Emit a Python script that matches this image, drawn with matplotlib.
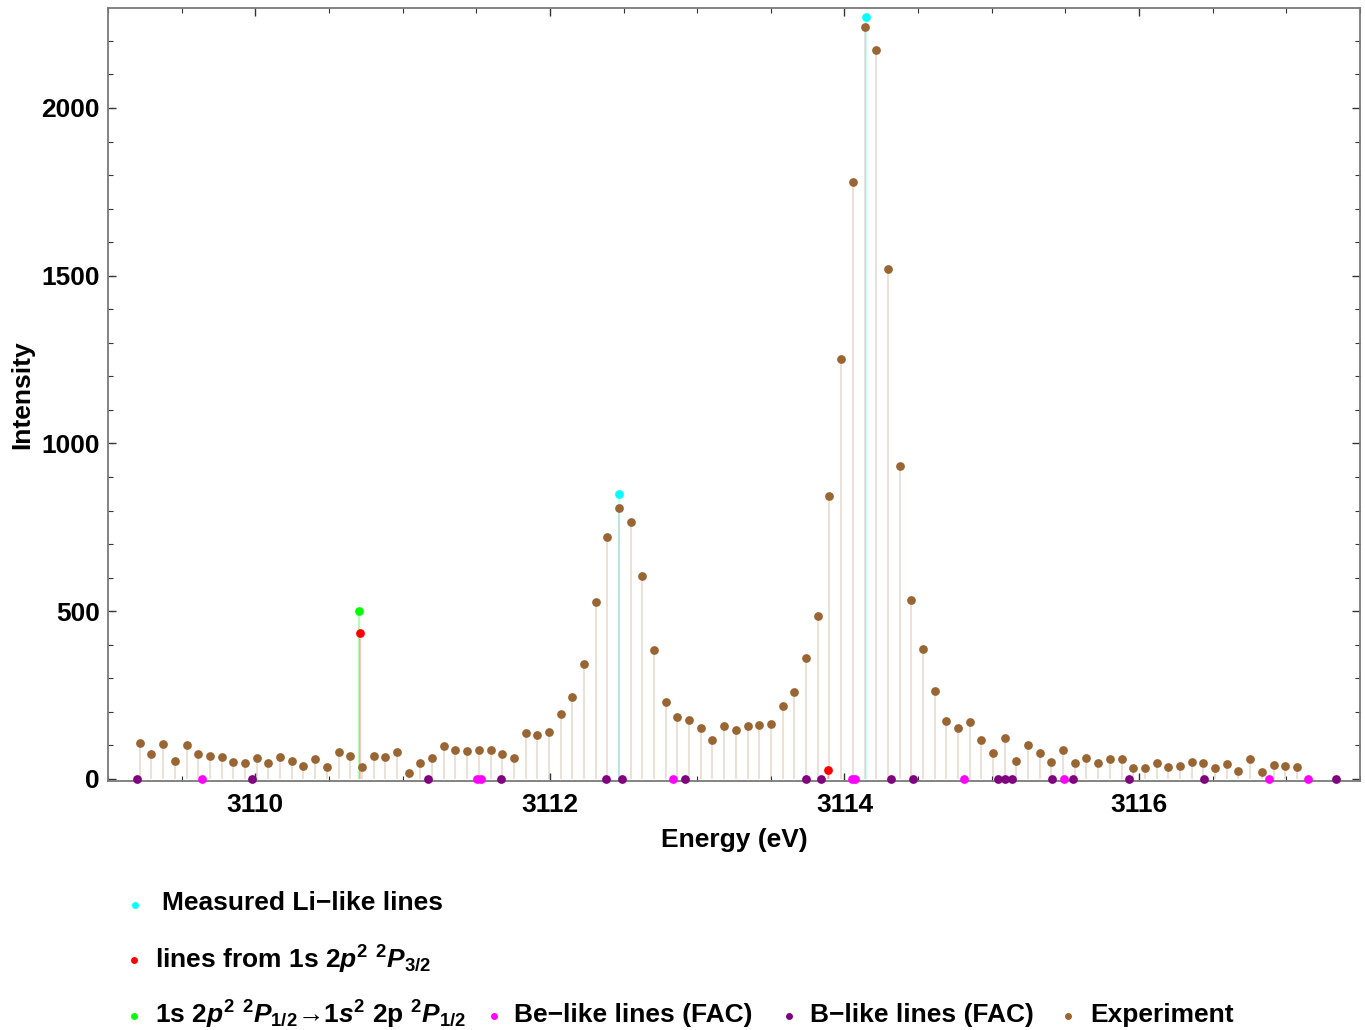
import matplotlib
matplotlib.use("Agg")
import matplotlib.pyplot as plt
from matplotlib.lines import Line2D
from matplotlib.ticker import MultipleLocator

plt.rcParams['font.family'] = ['Liberation Sans', 'DejaVu Sans']
plt.rcParams['font.weight'] = 'bold'
plt.rcParams['mathtext.fontset'] = 'custom'
plt.rcParams['mathtext.rm'] = 'Liberation Sans:bold'
plt.rcParams['mathtext.it'] = 'Liberation Sans:bold:italic'
plt.rcParams['mathtext.bf'] = 'Liberation Sans:bold'

# ---------------- data ----------------
exp_energy = [3109.216, 3109.295, 3109.375, 3109.454, 3109.533, 3109.613, 3109.692, 3109.771, 3109.851, 3109.930,
              3110.010, 3110.089, 3110.168, 3110.248, 3110.327, 3110.406, 3110.486, 3110.565, 3110.644, 3110.724,
              3110.803, 3110.882, 3110.962, 3111.041, 3111.120, 3111.200, 3111.279, 3111.358, 3111.438, 3111.517,
              3111.597, 3111.676, 3111.755, 3111.835, 3111.914, 3111.993, 3112.073, 3112.152, 3112.231, 3112.311,
              3112.390, 3112.469, 3112.549, 3112.628, 3112.707, 3112.787, 3112.866, 3112.945, 3113.025, 3113.104,
              3113.184, 3113.263, 3113.342, 3113.422, 3113.501, 3113.580, 3113.660, 3113.739, 3113.818, 3113.898,
              3113.977, 3114.056, 3114.136, 3114.215, 3114.294, 3114.374, 3114.453, 3114.532, 3114.612, 3114.691,
              3114.771, 3114.850, 3114.929, 3115.009, 3115.088, 3115.167, 3115.247, 3115.326, 3115.405, 3115.485,
              3115.564, 3115.643, 3115.723, 3115.802, 3115.881, 3115.961, 3116.040, 3116.119, 3116.199, 3116.278,
              3116.358, 3116.437, 3116.516, 3116.596, 3116.675, 3116.754, 3116.834, 3116.913, 3116.992, 3117.072]
exp_intensity = [108, 75, 104, 55, 100, 75, 69, 66, 51, 49,
                 62, 47, 66, 54, 40, 59, 37, 80, 69, 36,
                 70, 66, 81, 19, 49, 63, 97, 86, 84, 85,
                 87, 73, 63, 136, 131, 141, 194, 243, 344, 528,
                 722, 809, 766, 606, 383, 228, 186, 177, 153, 115,
                 159, 146, 157, 160, 163, 218, 258, 362, 487, 844,
                 1253, 1780, 2242, 2172, 1520, 933, 534, 386, 262, 172,
                 152, 171, 116, 78, 122, 54, 101, 76, 51, 87,
                 47, 62, 47, 61, 61, 32, 32, 49, 36, 40,
                 52, 48, 34, 45, 24, 61, 20, 41, 39, 37]

li_energy = [3112.468, 3114.144]
li_intensity = [850, 2270]

p32_energy = [3110.713, 3113.890]
p32_intensity = [436, 28]

p12_energy = [3110.704]
p12_intensity = [500]

be_energy = [3109.635, 3111.503, 3111.535, 3112.835, 3114.049, 3114.071, 3114.812, 3115.491, 3116.884, 3117.147]
be_intensity = [0, 0, 0, 0, 0, 0, 0, 0, 0, 0]

b_energy = [3109.198, 3109.977, 3111.173, 3111.669, 3112.384, 3112.488, 3112.916, 3113.736, 3113.842,
            3114.318, 3114.465, 3115.041, 3115.090, 3115.138, 3115.412, 3115.550, 3115.935, 3116.442, 3117.337]
b_intensity = [0] * len(b_energy)

legend_labels = [
    "Measured Li\u2212like lines",
    r"lines from 1s 2$p^2$ $^2P_{3/2}$",
    r"1s 2$p^2$ $^2P_{1/2}$" + "\u2192" + r"1$s^2$ 2p $^2P_{1/2}$",
    "Be\u2212like lines (FAC)",
    "B\u2212like lines (FAC)",
    "Experiment",
]

# ---------------- style ----------------
C_LI = '#00FFFF'
C_P32 = '#FF0000'
C_P12 = '#00FF00'
C_BE = '#FF00FF'
C_B = '#800080'
C_EXP = '#996633'
FS = 19

W, H = 1365, 1030
fig = plt.figure(figsize=(W / 100, H / 100), dpi=100)
ax = fig.add_axes([108 / W, 1 - 781 / H, (1360 - 108) / W, (781 - 8) / H])


def stems(xs, ys, color, alpha, lw=1.1, z=1):
    ax.vlines(xs, 0, ys, colors=color, alpha=alpha, linewidth=lw, zorder=z)


ms = 6.3
stems(exp_energy, exp_intensity, C_EXP, 0.25, z=1)
stems(li_energy, li_intensity, C_LI, 0.3, z=1.2)
stems(p32_energy, p32_intensity, C_P32, 0.3, z=1.3)
stems(p12_energy, p12_intensity, C_P12, 0.4, z=1.4)

ax.plot(be_energy, be_intensity, 'o', color=C_BE, ms=ms, mec='none', zorder=3, clip_on=False)
ax.plot(b_energy, b_intensity, 'o', color=C_B, ms=ms, mec='none', zorder=3, clip_on=False)
ax.plot(exp_energy, exp_intensity, 'o', color=C_EXP, ms=ms, mec='none', zorder=4)
ax.plot(li_energy, li_intensity, 'o', color=C_LI, ms=ms, mec='none', zorder=5)
ax.plot(p32_energy, p32_intensity, 'o', color=C_P32, ms=ms, mec='none', zorder=5)
ax.plot(p12_energy, p12_intensity, 'o', color=C_P12, ms=ms, mec='none', zorder=5)

ax.set_xlim(3109.0, 3117.5)
ax.set_ylim(-6, 2298)
ax.xaxis.set_major_locator(MultipleLocator(2))
ax.xaxis.set_minor_locator(MultipleLocator(0.5))
ax.yaxis.set_major_locator(MultipleLocator(500))
ax.yaxis.set_minor_locator(MultipleLocator(100))
ax.tick_params(which='both', direction='in', top=True, right=True, color='#333333')
ax.tick_params(which='major', length=6, width=1.0, labelsize=FS, pad=6)
ax.tick_params(which='minor', length=3.5, width=0.8)
ax.tick_params(axis='x', which='major', pad=9)
ax.tick_params(labeltop=False, labelright=False)
for lab in ax.get_xticklabels() + ax.get_yticklabels():
    lab.set_fontweight('bold')
for sp in ax.spines.values():
    sp.set_color('#7a7a7a')
    sp.set_linewidth(1.3)

fig.text(734 / W, 1 - 840 / H, "Energy (eV)", ha='center', va='center', fontsize=FS, fontweight='bold')
fig.text(22 / W, 1 - 395 / H, "Intensity", ha='center', va='center', rotation=90, fontsize=FS, fontweight='bold')

# ---------------- legend ----------------
leg_colors = [C_LI, C_P32, C_P12, C_BE, C_B, C_EXP]
leg_dot = [(135, 905), (134, 960), (134, 1016), (494, 1016), (789, 1016), (1068, 1016)]
leg_text = [(162, 903), (155, 960), (155, 1015), (514, 1015), (810, 1015), (1090, 1015)]
for col, (dx, dy), (tx, ty), lab in zip(leg_colors, leg_dot, leg_text, legend_labels):
    fig.add_artist(Line2D([dx / W], [1 - dy / H], transform=fig.transFigure, marker='o',
                          color=col, ms=5, mec='none', linestyle='none'))
    fig.text(tx / W, 1 - ty / H, lab, ha='left', va='center', fontsize=FS, fontweight='bold')

fig.savefig('out.png', dpi=100)
